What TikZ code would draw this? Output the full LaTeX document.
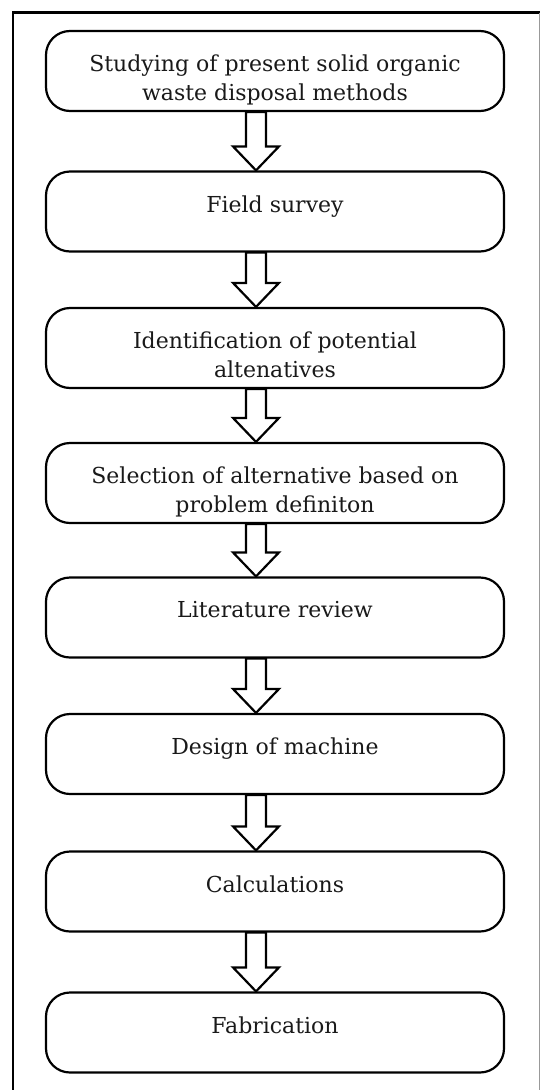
\documentclass[tikz,border=0pt]{standalone}
\usepackage{fontspec}
\setmainfont{DejaVu Serif}
\usetikzlibrary{calc,positioning}

\begin{document}
\begin{tikzpicture}[x=1pt,y=1pt,
stepbox/.style={draw,line width=2.2pt,rounded corners=24pt,minimum width=458pt,minimum height=80pt},
steptext/.style={anchor=north,inner sep=0pt,align=center,text=black!90,font=\fontsize{22}{28.5}\selectfont},
flowarrow/.style={draw,line width=2.2pt,fill=white,line join=miter}]
\useasboundingbox (0,0) rectangle (540,-1090);
\draw[line width=2.2pt] (13,-1090) coordinate (fl) -- (13,-12.5) coordinate (ft) -- (540,-12.5) coordinate (fr);
\draw[black!40,line width=.6pt] (539.5,-12.5) coordinate (gr) -- (539.5,-1090) coordinate (gb);
\node[stepbox] (B1) at (275,-71) {};
\node[stepbox] (B2) at (275,-211.5) {};
\node[stepbox] (B3) at (275,-348) {};
\node[stepbox] (B4) at (275,-483) {};
\node[stepbox] (B5) at (275,-617.5) {};
\node[stepbox] (B6) at (275,-754) {};
\node[stepbox] (B7) at (275,-891.5) {};
\node[stepbox] (B8) at (275,-1032.5) {};
\node[steptext] (T1) at ([yshift=-25pt]B1.north) {Studying of present solid organic\\waste disposal methods};
\node[steptext] (T2) at ([yshift=-25pt]B2.north) {Field survey};
\node[steptext] (T3) at ([yshift=-25pt]B3.north) {Identification of potential\\altenatives};
\node[steptext] (T4) at ([yshift=-25pt]B4.north) {Selection of alternative based on\\problem definiton};
\node[steptext] (T5) at ([yshift=-25pt]B5.north) {Literature review};
\node[steptext] (T6) at ([yshift=-25pt]B6.north) {Design of machine};
\node[steptext] (T7) at ([yshift=-25pt]B7.north) {Calculations};
\node[steptext] (T8) at ([yshift=-25pt]B8.north) {Fabrication};
\foreach \a/\b in {B1/B2,B2/B3,B3/B4,B4/B5,B5/B6,B6/B7,B7/B8}
  \draw[flowarrow] let \p1=(\a.south), \p2=(\b.north) in
    (\x1-29pt,\y1) -- (\x1-9pt,\y1) -- (\x1-9pt,\y2+24pt) -- (\x1+4pt,\y2+24pt)
    -- (\x1-19pt,\y2) -- (\x1-42pt,\y2+24pt) -- (\x1-29pt,\y2+24pt) -- cycle;
\end{tikzpicture}
\end{document}
